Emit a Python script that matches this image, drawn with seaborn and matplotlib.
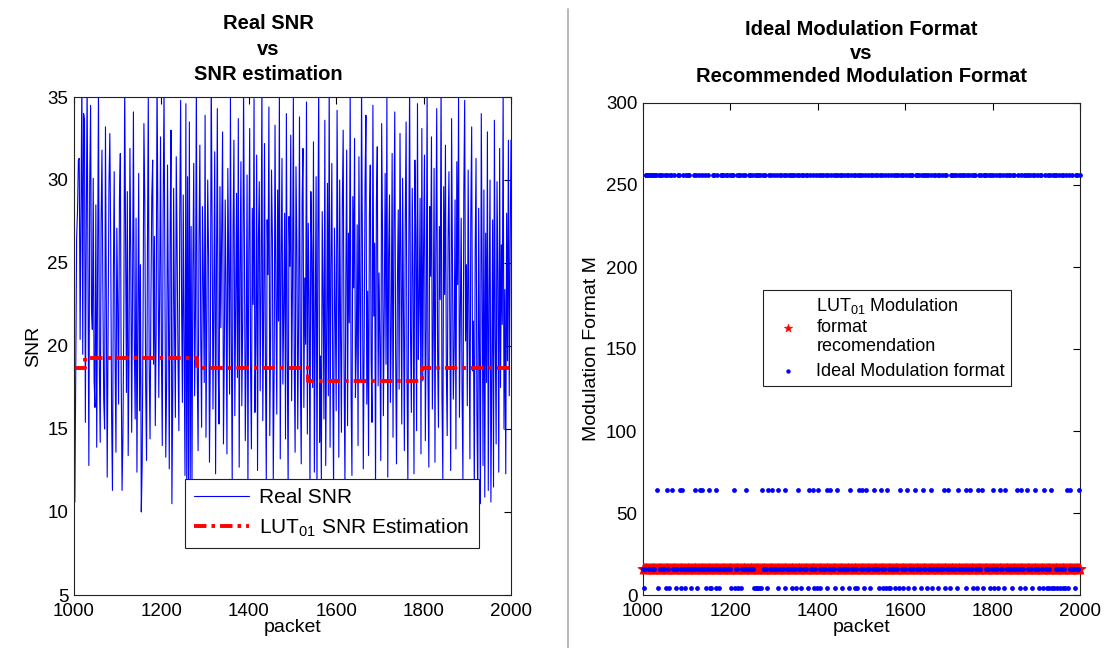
import numpy as np
import pandas as pd
import matplotlib
matplotlib.use("Agg")
import matplotlib.pyplot as plt
from matplotlib.lines import Line2D
import seaborn as sns

# ---------------------------------------------------------------- data
# Real SNR per packet (one sample every second packet, packets 1000..2000)
real_snr = [
    17.5, 10.6, 18.2, 26.5, 28.1, 31.2, 31.3, 20.4, 28.0, 36.2, 19.5, 34.0, 33.6, 15.4, 26.8, 36.0, 24.1, 12.8, 29.8, 34.5, 22.3, 21.0, 30.1, 17.9, 16.3,
    28.5, 13.9, 24.6, 35.5, 18.7, 14.2, 27.4, 31.8, 23.5, 16.8, 15.0, 33.2, 22.9, 12.1, 20.6, 29.7, 32.8, 26.3, 15.9, 11.3, 24.0, 30.5, 19.4, 13.6, 27.1,
    22.4, 16.5, 28.9, 31.6, 18.3, 11.3, 14.7, 21.8, 35.8, 26.0, 17.2, 29.3, 13.4, 19.9, 31.9, 25.1, 14.8, 23.6, 34.1, 20.2, 15.6, 27.7, 12.4, 22.0, 30.4,
    16.1, 24.9, 10.0, 12.9, 21.4, 33.4, 28.6, 17.6, 13.1, 25.5, 35.1, 19.0, 14.4, 22.7, 29.0, 31.2, 18.9, 26.6, 15.2, 20.8, 36.4, 27.3, 16.9, 23.1, 32.6,
    19.6, 14.0, 28.2, 35.3, 24.4, 13.3, 18.0, 30.9, 22.6, 12.6, 26.9, 33.0, 10.5, 17.4, 29.5, 21.2, 15.7, 31.4, 25.8, 19.2, 14.9, 27.9, 34.8, 23.3, 16.6,
    29.1, 20.0, 12.2, 34.6, 11.4, 30.2, 11.0, 33.5, 12.0, 27.2, 11.7, 24.7, 31.0, 17.0, 22.1, 35.9, 18.4, 13.7, 26.2, 32.1, 20.7, 15.1, 28.4, 23.9, 17.8,
    33.9, 14.5, 21.6, 30.0, 25.3, 13.0, 19.3, 36.5, 27.5, 16.2, 22.8, 31.7, 12.3, 24.2, 34.3, 18.6, 15.3, 29.6, 21.1, 26.7, 32.9, 14.1, 19.7, 28.8, 23.0,
    13.5, 30.7, 25.0, 17.1, 35.0, 20.5, 11.8, 27.0, 32.4, 15.8, 22.2, 29.2, 18.1, 33.7, 12.7, 24.5, 31.1, 16.4, 21.3, 35.6, 26.1, 14.3, 19.8, 30.3, 11.5,
    25.6, 33.1, 18.8, 13.8, 28.3, 22.5, 34.9, 16.0, 20.3, 31.5, 12.5, 26.4, 29.9, 17.3, 23.7, 36.1, 15.5, 21.9, 32.2, 19.1, 11.9, 27.6, 24.3, 34.4, 14.6,
    20.9, 30.6, 26.5, 12.0, 18.5, 33.3, 23.4, 15.9, 29.4, 21.5, 35.4, 13.2, 25.2, 31.3, 17.7, 22.3, 28.0, 14.4, 34.0, 19.5, 11.6, 27.8, 24.8, 32.7, 16.7,
    23.8, 35.2, 19.0, 13.6, 30.8, 26.0, 15.0, 21.7, 33.8, 18.2, 12.9, 28.7, 31.9, 16.3, 24.1, 20.1, 34.7, 14.7, 27.4, 22.9, 11.2, 29.3, 25.7, 17.5, 32.3,
    12.4, 21.0, 30.2, 11.1, 26.3, 35.7, 14.2, 19.4, 11.9, 28.1, 23.2, 15.6, 33.6, 12.8, 20.4, 29.8, 17.0, 36.3, 13.9, 24.6, 31.0, 18.3, 11.4, 27.1, 22.0,
    16.1, 34.2, 25.4, 13.3, 30.0, 20.6, 14.8, 28.5, 33.0, 18.7, 11.7, 24.0, 31.8, 15.2, 26.8, 21.4, 35.5, 17.2, 12.2, 29.0, 23.5, 32.5, 16.9, 19.8, 27.3,
    14.0, 31.4, 22.7, 18.0, 35.8, 25.9, 12.6, 20.2, 29.7, 33.9, 16.5, 23.3, 13.4, 27.9, 30.9, 19.3, 15.4, 34.5, 21.8, 26.2, 11.3, 28.6, 32.0, 17.6, 24.4,
    20.0, 13.1, 33.4, 27.0, 15.8, 22.4, 30.4, 18.9, 35.1, 12.1, 25.5, 29.1, 16.6, 21.2, 31.6, 14.5, 26.9, 34.1, 19.6, 12.9, 23.6, 28.2, 17.4, 32.8, 24.7,
    15.3, 30.1, 21.7, 13.7, 27.5, 33.5, 18.4, 11.8, 25.1, 35.9, 20.8, 16.0, 29.5, 23.9, 12.3, 31.2, 26.6, 14.9, 34.6, 19.2, 22.6, 28.9, 13.5, 33.1, 17.9,
    26.0, 31.5, 14.3, 21.1, 35.3, 18.1, 12.7, 28.4, 24.2, 32.6, 16.2, 20.7, 30.7, 13.0, 25.7, 34.3, 19.7, 15.1, 27.2, 22.8, 36.0, 17.1, 11.9, 29.6, 23.1,
    32.1, 18.6, 14.6, 26.4, 30.5, 21.6, 12.5, 33.7, 25.3, 16.8, 19.9, 28.8, 13.8, 31.1, 23.7, 35.0, 15.7, 22.1, 27.7, 17.3, 12.0, 29.2, 34.8, 20.3, 24.9,
    16.4, 30.6, 22.2, 13.2, 27.8, 33.2, 18.5, 21.5, 11.0, 25.6, 31.3, 15.9, 10.7, 28.3, 19.4, 10.5, 34.0, 24.5, 12.8, 29.4, 10.9, 26.8, 17.8, 32.9, 11.3,
    22.9, 30.0, 10.6, 18.2, 27.6, 11.5, 33.6, 20.5, 14.1, 29.9, 24.0, 12.4, 31.9, 17.5, 26.1, 21.3, 35.4, 15.0, 23.4, 12.3, 28.0, 19.1, 32.4, 17.0, 25.8,
    32.4,
]
packet_start, packet_step = 1000, 2

# LUT01 SNR estimate: piecewise constant between these packet boundaries
est_breaks = [1000, 1025, 1281, 1535, 1796, 2000]
est_values = [18.7, 19.3, 18.7, 17.9, 18.7]

# SNR decision thresholds -> modulation order M
snr_thresholds = [14.5, 23.5, 26.5]
mod_levels = [4, 16, 64, 256]

x_ticks = [1000, 1200, 1400, 1600, 1800, 2000]

# ---------------------------------------------------------------- derived tables
packets = packet_start + packet_step * np.arange(len(real_snr))
snr_df = pd.DataFrame({"packet": packets, "snr": real_snr})

est_df = pd.DataFrame({"packet": est_breaks,
                       "snr": est_values + [est_values[-1]]})

levels = np.array(mod_levels)
est_at_packet = np.array(est_values)[
    np.clip(np.searchsorted(est_breaks, packets, side="right") - 1, 0, len(est_values) - 1)]
mod_df = pd.DataFrame({
    "packet": packets,
    "ideal": levels[np.digitize(real_snr, snr_thresholds)],
    "recommended": levels[np.digitize(est_at_packet, snr_thresholds)],
})

# ---------------------------------------------------------------- style
sns.set_theme(style="white")
plt.rcParams["font.family"] = ["Liberation Sans", "DejaVu Sans"]
plt.rcParams["mathtext.fontset"] = "custom"
plt.rcParams["mathtext.rm"] = "Liberation Sans"
plt.rcParams["mathtext.it"] = "Liberation Sans:italic"
plt.rcParams["mathtext.bf"] = "Liberation Sans:bold"
plt.rcParams["mathtext.default"] = "regular"
plt.rcParams["text.color"] = "black"
plt.rcParams["axes.labelcolor"] = "black"
plt.rcParams["xtick.color"] = "black"
plt.rcParams["ytick.color"] = "black"

W, H = 1113, 648
fig = plt.figure(figsize=(W / 100, H / 100), dpi=100)
ax1 = fig.add_axes([74 / W, 1 - 595 / H, (511 - 74) / W, (595 - 97) / H])
ax2 = fig.add_axes([643 / W, 1 - 595 / H, (1080 - 643) / W, (595 - 103) / H])


def style_axes(ax):
    ax.tick_params(axis="both", direction="in", top=True, right=True, length=5,
                   width=0.8, labelsize=13.5, colors="black")
    ax.tick_params(axis="x", pad=6)
    ax.tick_params(axis="y", pad=4)
    for sp in ax.spines.values():
        sp.set_color("#222222")
        sp.set_linewidth(0.8)
    ax.set_xticks(x_ticks)
    ax.set_xlim(1000, 2000)
    ax.set_xlabel("packet", fontsize=14, labelpad=-1)


# ---------------------------------------------------------------- left panel
sns.lineplot(data=snr_df, x="packet", y="snr", ax=ax1, color="#0000ff",
             linewidth=0.8, estimator=None, sort=False, label="Real SNR")
sns.lineplot(data=est_df, x="packet", y="snr", ax=ax1, color="#ff0000",
             linewidth=2.8, estimator=None, sort=False, drawstyle="steps-post",
             linestyle=(0, (3.2, 1.3, 0.9, 1.3)),
             label="LUT$_{01}$ SNR Estimation")
ax1.set_ylim(5, 35)
ax1.set_yticks([5, 10, 15, 20, 25, 30, 35])
ax1.set_ylabel("SNR", fontsize=14, labelpad=4)
style_axes(ax1)
ax1.set_title("Real SNR\nvs\nSNR estimation", fontsize=14.5, fontweight="bold",
              x=0.444, pad=12, linespacing=1.45)
leg1 = ax1.legend(loc="lower left", bbox_to_anchor=(0.254, 0.094), fontsize=15,
                  frameon=True, fancybox=False, edgecolor="#222222", framealpha=1,
                  handlelength=2.6, borderpad=0.45, labelspacing=0.45,
                  handletextpad=0.5, borderaxespad=0)
leg1.get_frame().set_linewidth(0.8)

# ---------------------------------------------------------------- right panel
sns.scatterplot(data=mod_df, x="packet", y="recommended", ax=ax2, marker="*",
                color="#ff0000", s=75, linewidth=0.4, edgecolor="#ff0000",
                clip_on=False, zorder=3,
                label="LUT$_{01}$ Modulation\nformat\nrecomendation")
sns.scatterplot(data=mod_df, x="packet", y="ideal", ax=ax2, marker="o",
                color="#0000ff", s=12, linewidth=0, clip_on=False, zorder=4,
                label="Ideal Modulation format")
ax2.set_ylim(0, 300)
ax2.set_yticks([0, 50, 100, 150, 200, 250, 300])
ax2.set_ylabel("Modulation Format M", fontsize=14, labelpad=4)
style_axes(ax2)
ax2.set_title("Ideal Modulation Format\nvs\nRecommended Modulation Format",
              fontsize=14.5, fontweight="bold", pad=15, linespacing=1.3)
leg2 = ax2.legend(loc="upper left", bbox_to_anchor=(0.275, 0.62), fontsize=13,
                  frameon=True, fancybox=False, edgecolor="#222222", framealpha=1,
                  handlelength=2.0, borderpad=0.35, labelspacing=0.4,
                  handletextpad=0.6, borderaxespad=0)
leg2.get_frame().set_linewidth(0.8)
leg2.legend_handles[0].set_sizes([40])
leg2.legend_handles[1].set_sizes([10])

# vertical divider between the two panels
fig.add_artist(Line2D([568 / W, 568 / W], [0, 1 - 9 / H], color="#b8b8b8",
                      linewidth=1.4))

fig.savefig("out.png", dpi=100)
